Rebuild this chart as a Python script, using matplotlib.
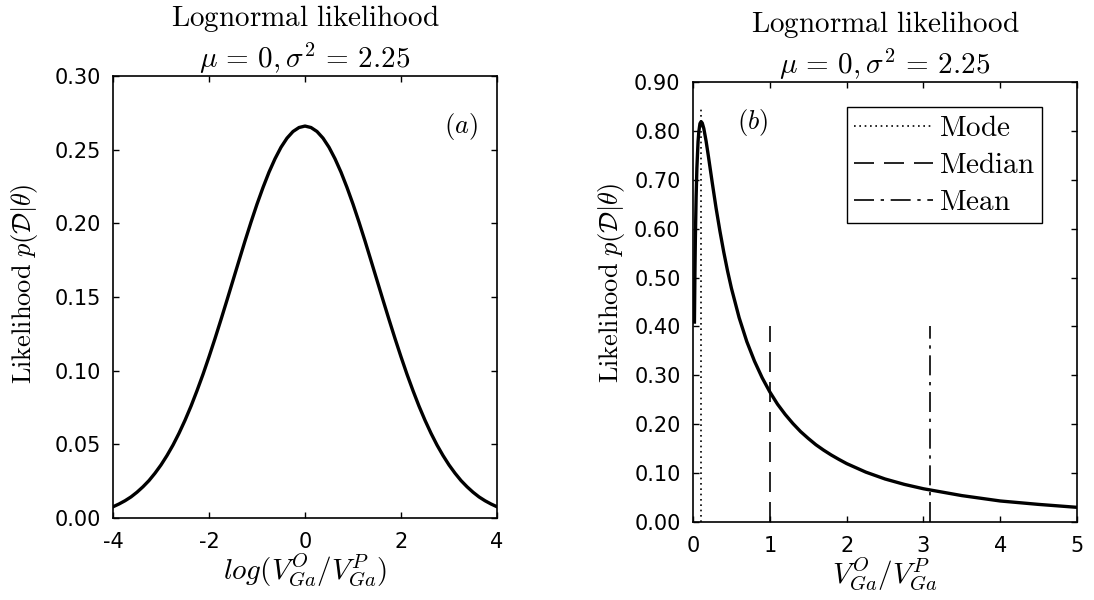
import numpy as np
import matplotlib
matplotlib.use("Agg")
import matplotlib.pyplot as plt
from matplotlib.ticker import FormatStrFormatter

plt.rcParams['mathtext.fontset'] = 'cm'
plt.rcParams['axes.unicode_minus'] = False
plt.rcParams['font.family'] = 'DejaVu Sans'

# Panel (a): likelihood vs log ratio
log_ratio = [-4.0, -3.875, -3.75, -3.625, -3.5, -3.375, -3.25, -3.125, -3.0, -2.875,
             -2.75, -2.625, -2.5, -2.375, -2.25, -2.125, -2.0, -1.875, -1.75, -1.625,
             -1.5, -1.375, -1.25, -1.125, -1.0, -0.875, -0.75, -0.625, -0.5, -0.375,
             -0.25, -0.125, 0.0, 0.125, 0.25, 0.375, 0.5, 0.625, 0.75, 0.875, 1.0,
             1.125, 1.25, 1.375, 1.5, 1.625, 1.75, 1.875, 2.0, 2.125, 2.25, 2.375,
             2.5, 2.625, 2.75, 2.875, 3.0, 3.125, 3.25, 3.375, 3.5, 3.625, 3.75,
             3.875, 4.0]
lik_a = [0.0076, 0.0095, 0.0117, 0.0143, 0.0175, 0.0212, 0.0254, 0.0304, 0.0360,
         0.0424, 0.0495, 0.0575, 0.0663, 0.0759, 0.0864, 0.0975, 0.1094, 0.1218,
         0.1347, 0.1479, 0.1613, 0.1747, 0.1880, 0.2008, 0.2130, 0.2243, 0.2347,
         0.2438, 0.2516, 0.2578, 0.2623, 0.2650, 0.2660, 0.2650, 0.2623, 0.2578,
         0.2516, 0.2438, 0.2347, 0.2243, 0.2130, 0.2008, 0.1880, 0.1747, 0.1613,
         0.1479, 0.1347, 0.1218, 0.1094, 0.0975, 0.0864, 0.0759, 0.0663, 0.0575,
         0.0495, 0.0424, 0.0360, 0.0304, 0.0254, 0.0212, 0.0175, 0.0143, 0.0117,
         0.0095, 0.0076]

# Panel (b): likelihood vs ratio
ratio = [0.018, 0.025, 0.03, 0.04, 0.05, 0.065, 0.075, 0.09, 0.105, 0.12, 0.14, 0.17,
         0.2, 0.25, 0.3, 0.35, 0.4, 0.45, 0.5, 0.6, 0.7, 0.8, 0.9, 1.0, 1.1, 1.2,
         1.3, 1.4, 1.5, 1.6, 1.7, 1.8, 1.9, 2.0, 2.25, 2.5, 2.75, 3.0, 3.5, 4.0,
         4.5, 5.0]
lik_b = [0.409, 0.517, 0.577, 0.665, 0.724, 0.778, 0.798, 0.815, 0.819, 0.816,
         0.805, 0.779, 0.748, 0.694, 0.642, 0.595, 0.552, 0.513, 0.478, 0.418,
         0.369, 0.329, 0.295, 0.266, 0.241, 0.220, 0.2015, 0.185, 0.171, 0.158,
         0.147, 0.137, 0.128, 0.1195, 0.102, 0.088, 0.077, 0.068, 0.054, 0.043,
         0.036, 0.030]

stat_names = ['Mode', 'Median', 'Mean']
stat_x = [0.105, 1.0, 3.08]
stat_top = [0.85, 0.40, 0.40]
stat_styles = [(0, (1, 2.2)), (0, (12, 6)), (0, (12, 4, 2, 4))]

title = (r'$\mathrm{Lognormal\ likelihood}$' + '\n'
         + r'$\mu\,=\,0,\sigma^2\,=\,2.25$')
ylab = r'$\mathrm{Likelihood}\ p(\mathcal{D}|\theta)$'

fig = plt.figure(figsize=(10.94, 6.0), dpi=100)
ax1 = fig.add_axes([0.1033, 0.1367, 0.351, 0.7367])
ax2 = fig.add_axes([0.6335, 0.13, 0.351, 0.7333])

for ax in (ax1, ax2):
    ax.tick_params(direction='in', length=4, width=1, top=True, right=True,
                   labelsize=15)
    ax.tick_params(axis='y', pad=9)
    ax.tick_params(axis='x', pad=10)
    for s in ax.spines.values():
        s.set_linewidth(1.2)
    ax.set_title(title, fontsize=21, pad=6, linespacing=1.25)
    ax.set_ylabel(ylab, fontsize=19)

ax1.plot(log_ratio, lik_a, color='black', lw=2.4, solid_joinstyle='round')
ax1.set_xlim(-4, 4)
ax1.set_ylim(0, 0.30)
ax1.set_xticks([-4, -2, 0, 2, 4])
ax1.set_yticks(np.arange(0, 0.301, 0.05))
ax1.yaxis.set_major_formatter(FormatStrFormatter('%.2f'))
ax1.set_xlabel(r'$log(V_{Ga}^O/V_{Ga}^P)$', fontsize=21, labelpad=0)
ax1.yaxis.set_label_coords(-0.19, 0.53)
ax1.text(3.25, 0.266, r'$(a)$', fontsize=19, ha='center', va='center')

ax2.plot(ratio, lik_b, color='black', lw=2.4, solid_joinstyle='round')
for name, x, top, ls in zip(stat_names, stat_x, stat_top, stat_styles):
    ax2.plot([x, x], [0, top], color='black', lw=1.2, linestyle=ls, label=name)
ax2.set_xlim(0, 5)
ax2.set_ylim(0, 0.90)
ax2.set_xticks([0, 1, 2, 3, 4, 5])
ax2.set_yticks(np.arange(0, 0.901, 0.10))
ax2.yaxis.set_major_formatter(FormatStrFormatter('%.2f'))
ax2.set_xlabel(r'$V_{Ga}^O/V_{Ga}^P$', fontsize=21, labelpad=0)
ax2.yaxis.set_label_coords(-0.172, 0.545)
ax2.text(0.78, 0.818, r'$(b)$', fontsize=19, ha='center', va='center')

leg = ax2.legend(loc='upper right', bbox_to_anchor=(0.909, 0.943), borderaxespad=0,
                 fancybox=False, edgecolor='black', framealpha=1,
                 handlelength=2.7, handletextpad=0.2, labelspacing=0.3,
                 borderpad=0.25, prop={'size': 21})
leg.get_frame().set_linewidth(1.0)
for t in leg.get_texts():
    t.set_text(r'$\mathrm{' + t.get_text() + '}$')

fig.savefig('out.png', dpi=100)
